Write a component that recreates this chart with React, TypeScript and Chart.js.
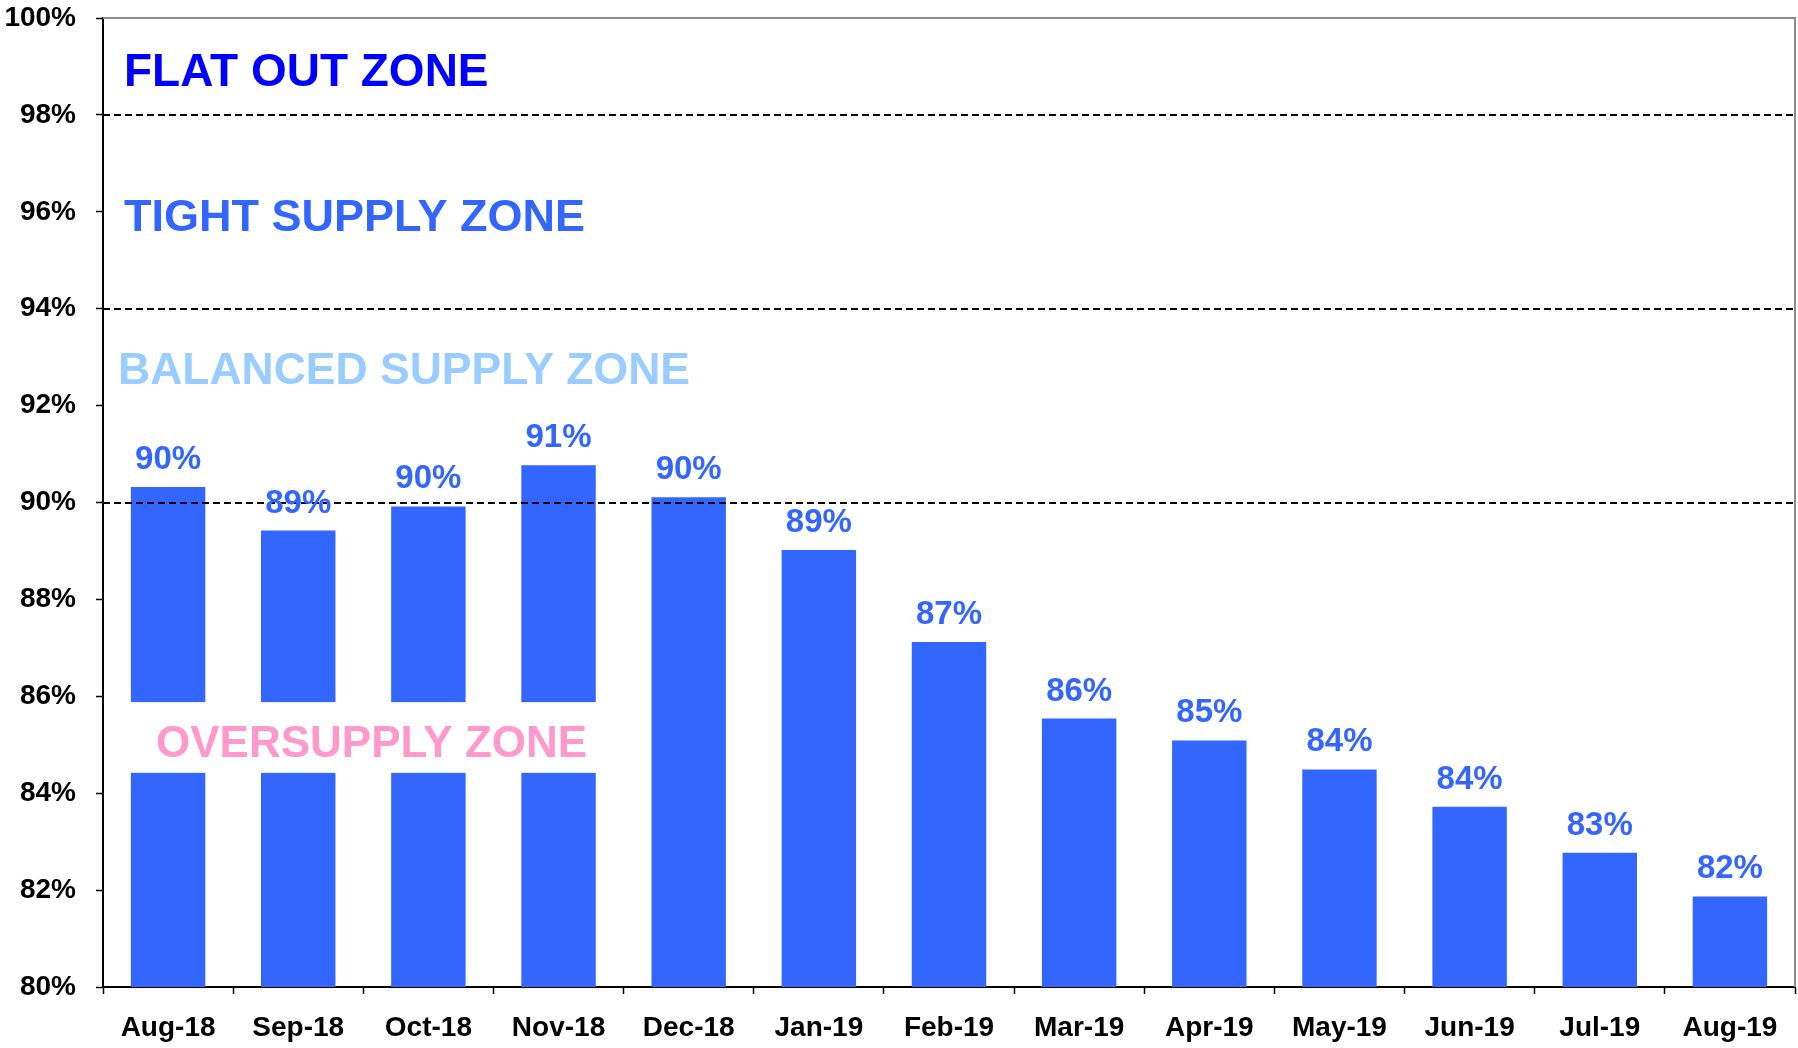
import { useEffect, useRef } from 'react';
import { Chart, registerables } from 'chart.js';

Chart.register(...registerables);

const categories = ['Aug-18', 'Sep-18', 'Oct-18', 'Nov-18', 'Dec-18', 'Jan-19', 'Feb-19', 'Mar-19', 'Apr-19', 'May-19', 'Jun-19', 'Jul-19', 'Aug-19'];
const utilisation = [90.32, 89.42, 89.92, 90.77, 90.11, 89.02, 87.12, 85.54, 85.09, 84.49, 83.72, 82.77, 81.87];
const yMin = 80;
const yMax = 100;
const yStep = 2;
const zoneLines = [90, 94, 98];
const zoneLabels = ['FLAT OUT ZONE', 'TIGHT SUPPLY ZONE', 'BALANCED SUPPLY ZONE', 'OVERSUPPLY ZONE'];
const zoneLabelValues = [98.85, 95.85, 92.7, 85.0];
const zoneLabelColors = ['#0000FF', '#3366FF', '#99CCFF', '#FF99CC'];
const zoneLabelOffsets = [21, 21, 15, 53];
const zoneLabelSizes = [46, 45, 44.5, 44];
const oversupplyBand = [84.42, 85.88];
const bandBarCount = 4;

const FONT = "'Liberation Sans', Arial, sans-serif";
const BAR_COLOR = '#3366FF';

export default function App() {
  const ref = useRef<HTMLCanvasElement | null>(null);

  useEffect(() => {
    document.body.style.margin = '0';
    const canvas = ref.current;
    if (!canvas) return;

    const overlay = {
      id: 'overlay',
      afterDatasetsDraw(chart: any) {
        const { ctx, chartArea } = chart;
        const y = chart.scales.y;
        const meta = chart.getDatasetMeta(0);
        ctx.save();

        // frame (top & right)
        ctx.strokeStyle = '#8c8c8c';
        ctx.lineWidth = 2;
        ctx.beginPath();
        ctx.moveTo(chartArea.left, chartArea.top);
        ctx.lineTo(chartArea.right, chartArea.top);
        ctx.lineTo(chartArea.right, chartArea.bottom);
        ctx.stroke();

        // dashed zone lines
        ctx.strokeStyle = '#000';
        ctx.lineWidth = 2;
        ctx.setLineDash([7, 4]);
        zoneLines.forEach((v) => {
          const py = Math.round(y.getPixelForValue(v));
          ctx.beginPath();
          ctx.moveTo(chartArea.left, py);
          ctx.lineTo(chartArea.right, py);
          ctx.stroke();
        });
        ctx.setLineDash([]);

        // white band for oversupply label
        const last = meta.data[bandBarCount - 1];
        const bandTop = y.getPixelForValue(oversupplyBand[1]);
        const bandBottom = y.getPixelForValue(oversupplyBand[0]);
        ctx.fillStyle = '#ffffff';
        ctx.fillRect(chartArea.left + 2, bandTop, last.x + last.width / 2 + 2 - chartArea.left - 2, bandBottom - bandTop);

        // zone labels
        ctx.textBaseline = 'middle';
        ctx.textAlign = 'left';
        zoneLabels.forEach((t, i) => {
          ctx.font = `bold ${zoneLabelSizes[i]}px ${FONT}`;
          ctx.fillStyle = zoneLabelColors[i];
          ctx.fillText(t, chartArea.left + zoneLabelOffsets[i], y.getPixelForValue(zoneLabelValues[i]));
        });

        // data labels
        ctx.font = `bold 33px ${FONT}`;
        ctx.fillStyle = BAR_COLOR;
        ctx.textAlign = 'center';
        ctx.textBaseline = 'alphabetic';
        meta.data.forEach((bar: any, i: number) => {
          ctx.fillText(Math.round(utilisation[i]) + '%', bar.x, bar.y - 18);
        });
        ctx.restore();
      },
    };

    const chart = new Chart(canvas, {
      type: 'bar',
      data: {
        labels: categories,
        datasets: [
          {
            data: utilisation,
            backgroundColor: BAR_COLOR,
            borderWidth: 0,
            categoryPercentage: 1,
            barPercentage: 0.572,
          },
        ],
      },
      options: {
        responsive: false,
        animation: false,
        layout: { padding: { top: 18, right: 3, left: 0, bottom: 0 } },
        plugins: { legend: { display: false }, tooltip: { enabled: false } },
        scales: {
          x: {
            afterFit: (s: any) => { s.height = 61; s.paddingLeft = 0; s.paddingRight = 0; },
            grid: { offset: true, drawOnChartArea: false, tickLength: 7, tickColor: '#000', tickWidth: 1.5 },
            border: { color: '#000', width: 2 },
            ticks: { color: '#000', font: { family: FONT, size: 28, weight: 'bold' }, padding: 17, maxRotation: 0 },
          },
          y: {
            min: yMin,
            max: yMax,
            afterFit: (s: any) => { s.width = 103; s.paddingTop = 0; s.paddingBottom = 0; },
            grid: { drawOnChartArea: false, tickLength: 7, tickColor: '#000', tickWidth: 1.5 },
            border: { color: '#000', width: 2 },
            ticks: {
              stepSize: yStep,
              color: '#000',
              font: { family: FONT, size: 28, weight: 'bold' },
              padding: 20,
              callback: (v: any) => v + '%',
            },
          },
        },
      },
      plugins: [overlay],
    } as any);

    return () => chart.destroy();
  }, []);

  return (
    <div style={{ width: 1798, height: 1048, background: '#fff' }}>
      <canvas ref={ref} width={1798} height={1048} style={{ display: 'block' }} />
    </div>
  );
}
